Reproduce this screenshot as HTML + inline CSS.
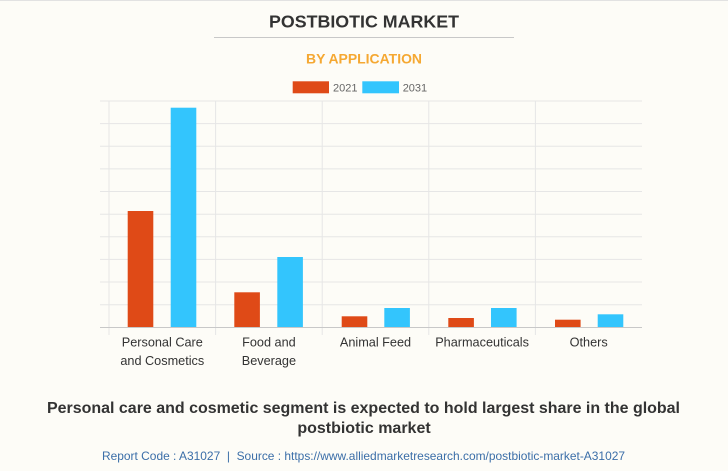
<!DOCTYPE html>
<html>
<head>
<meta charset="utf-8">
<style>
  html, body { margin:0; padding:0; background:#fdfcf7; }
  svg { display:block; }
  text { font-family: "Liberation Sans", Arial, sans-serif; }
</style>
</head>
<body>
<svg width="728" height="471" viewBox="0 0 728 471" xmlns="http://www.w3.org/2000/svg">
  <rect x="0" y="0" width="728" height="471" fill="#fdfcf7"/>
  <line x1="0" y1="0.5" x2="728" y2="0.5" stroke="#e2e2e2" stroke-width="1"/>

  <!-- Title -->
  <text x="364" y="27.3" text-anchor="middle" font-size="17.5" font-weight="bold" fill="#333333" textLength="190" lengthAdjust="spacingAndGlyphs">POSTBIOTIC MARKET</text>
  <line x1="214" y1="37.5" x2="514" y2="37.5" stroke="#c8c8c8" stroke-width="1"/>
  <text x="364" y="63.7" text-anchor="middle" font-size="13.5" font-weight="bold" fill="#f5a832" textLength="116" lengthAdjust="spacingAndGlyphs">BY APPLICATION</text>

  <!-- Legend -->
  <rect x="292.7" y="81.3" width="36.3" height="12" fill="#df4a17"/>
  <text x="333" y="91.3" font-size="11" fill="#666666">2021</text>
  <rect x="362.3" y="81.3" width="36.7" height="12" fill="#33c5fd"/>
  <text x="402.7" y="91.3" font-size="11" fill="#666666">2031</text>

  <!-- Grid -->
  <g stroke="#e6e6e6" stroke-width="1">
    <line x1="100" y1="101" x2="642" y2="101"/>
    <line x1="100" y1="123.6" x2="642" y2="123.6"/>
    <line x1="100" y1="146.3" x2="642" y2="146.3"/>
    <line x1="100" y1="168.9" x2="642" y2="168.9"/>
    <line x1="100" y1="191.5" x2="642" y2="191.5"/>
    <line x1="100" y1="214.2" x2="642" y2="214.2"/>
    <line x1="100" y1="236.8" x2="642" y2="236.8"/>
    <line x1="100" y1="259.4" x2="642" y2="259.4"/>
    <line x1="100" y1="282" x2="642" y2="282"/>
    <line x1="100" y1="304.7" x2="642" y2="304.7"/>
    <line x1="109" y1="101" x2="109" y2="335"/>
    <line x1="215.6" y1="101" x2="215.6" y2="335"/>
    <line x1="322.2" y1="101" x2="322.2" y2="335"/>
    <line x1="428.8" y1="101" x2="428.8" y2="335"/>
    <line x1="535.4" y1="101" x2="535.4" y2="335"/>
  </g>

  <!-- Bars -->
  <g fill="#df4a17">
    <rect x="127.7" y="211" width="25.6" height="116.3"/>
    <rect x="234.3" y="292.3" width="25.6" height="35"/>
    <rect x="341.7" y="316.3" width="25.6" height="11"/>
    <rect x="448.3" y="318" width="25.6" height="9.3"/>
    <rect x="555" y="319.7" width="25.6" height="7.6"/>
  </g>
  <g fill="#33c5fd">
    <rect x="170.7" y="107.7" width="25.6" height="219.6"/>
    <rect x="277.3" y="257" width="25.6" height="70.3"/>
    <rect x="384.3" y="308" width="25.6" height="19.3"/>
    <rect x="491" y="308" width="25.6" height="19.3"/>
    <rect x="597.7" y="314.3" width="25.6" height="13"/>
  </g>

  <!-- Axis -->
  <line x1="100" y1="327.5" x2="642" y2="327.5" stroke="#c8c8c8" stroke-width="1"/>

  <!-- Category labels -->
  <g font-size="12.7" fill="#333333" text-anchor="middle">
    <text x="162.3" y="346.5">Personal Care</text>
    <text x="162.3" y="365">and Cosmetics</text>
    <text x="268.9" y="346.5">Food and</text>
    <text x="268.9" y="365">Beverage</text>
    <text x="375.5" y="346.5">Animal Feed</text>
    <text x="482.1" y="346.5">Pharmaceuticals</text>
    <text x="588.7" y="346.5">Others</text>
  </g>

  <!-- Footer -->
  <text x="363.5" y="413" text-anchor="middle" font-size="16" font-weight="bold" fill="#333333" textLength="633" lengthAdjust="spacingAndGlyphs">Personal care and cosmetic segment is expected to hold largest share in the global</text>
  <text x="364" y="433" text-anchor="middle" font-size="16" font-weight="bold" fill="#333333">postbiotic market</text>
  <text x="363.5" y="460" text-anchor="middle" font-size="12" fill="#3b6ea8" textLength="523" lengthAdjust="spacingAndGlyphs">Report Code : A31027 &#160;|&#160; Source : https://www.alliedmarketresearch.com/postbiotic-market-A31027</text>
</svg>
</body>
</html>
